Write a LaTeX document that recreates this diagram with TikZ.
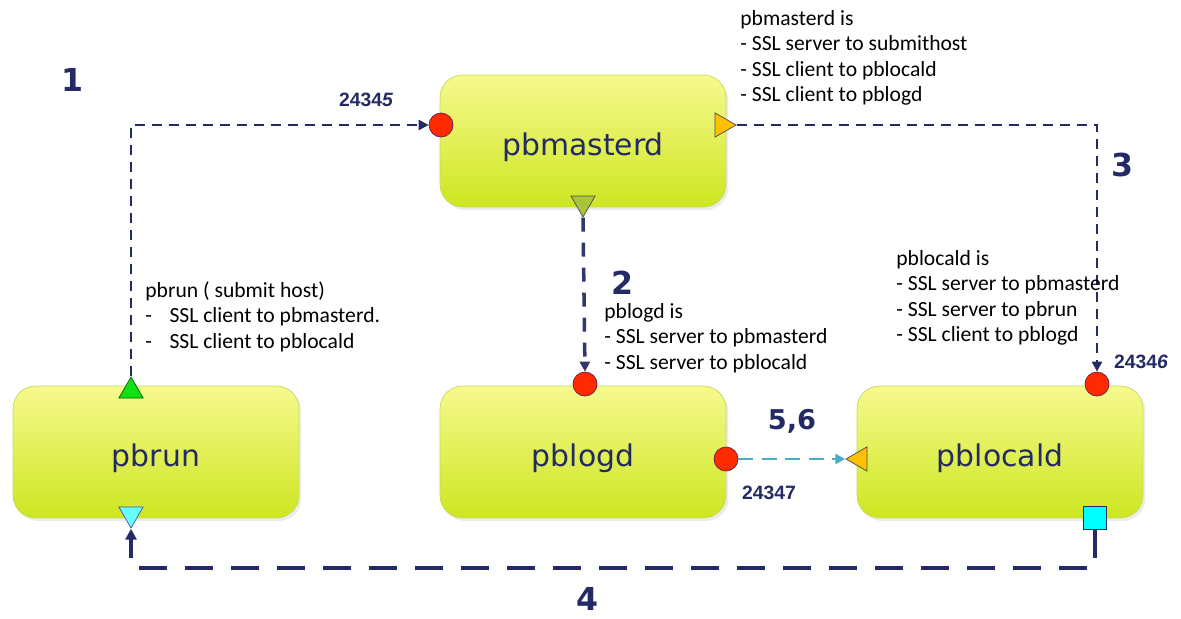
\documentclass[tikz,border=0pt]{standalone}
\usepackage{fontspec}
\setmainfont{Carlito}
\newfontfamily\boxfont{DejaVu Sans}
\newfontfamily\stepfont{DejaVu Sans}
\newfontfamily\portfont{Liberation Sans}
\usetikzlibrary{arrows.meta,shapes.geometric,shadows}

\definecolor{navy}{HTML}{232A64}
\definecolor{boxtop}{HTML}{F7F98E}
\definecolor{boxbot}{HTML}{CDE620}
\definecolor{boxline}{HTML}{C4DC5C}
\definecolor{portred}{HTML}{FF2A00}
\definecolor{portorange}{HTML}{FFC000}
\definecolor{portolive}{HTML}{A8C43C}
\definecolor{portgreen}{HTML}{12E012}
\definecolor{portcyan}{HTML}{66FFFF}
\definecolor{sqcyan}{HTML}{00FFFF}
\definecolor{linkcyan}{HTML}{4BACC6}

\tikzset{
  daemon/.style={rectangle, rounded corners=0.45cm, minimum width=5.72cm,
    minimum height=2.64cm, draw=boxline, top color=boxtop, bottom color=boxbot,
    drop shadow={opacity=0.15, shadow xshift=0.05cm, shadow yshift=-0.06cm},
    font=\boxfont\fontsize{17}{20}\selectfont, text=navy,
    text height=20pt, text depth=3.6pt},
  portin/.style={circle, draw=navy!70!red, fill=portred, minimum size=0.48cm, inner sep=0pt},
  tri/.style={regular polygon, regular polygon sides=3, minimum size=0.56cm, inner sep=0pt},
  sq/.style={rectangle, draw=navy, fill=sqcyan, minimum size=0.47cm, inner sep=0pt},
  conn/.style={navy, line width=1.4pt, dash pattern=on 0.2cm off 0.14cm,
    -{Triangle[length=0.2cm,width=0.2cm]}},
  note/.style={align=left, inner sep=0pt, anchor=north west, font=\fontsize{12.3}{14.5}\selectfont},
  stepnum/.style={font=\stepfont\bfseries\fontsize{18}{20}\selectfont, text=navy},
  portnum/.style={font=\portfont\bfseries\fontsize{11}{12}\selectfont, text=navy}
}

\begin{document}
\begin{tikzpicture}[x=0.02cm, y=0.02cm]
\useasboundingbox (0,0) rectangle (1181,-619);

% daemons
\node[daemon] (master) at (583,-141) {pbmasterd};
\node[daemon] (run) at (156,-452) {pbrun};
\node[daemon] (logd) at (583,-452) {pblogd};
\node[daemon] (locald) at (1000,-452) {pblocald};

% ports
\node[portin] (mIn) at (441,-125) {};
\node[tri, regular polygon rotate=-90, draw=gray!60!black, fill=portorange] (mOut) at (722,-125) {};
\node[tri, regular polygon rotate=180, draw=gray!60!black, fill=portolive] (mDown) at (583,-203) {};
\node[tri, draw=green!40!black, fill=portgreen] (runUp) at (131,-391) {};
\node[tri, regular polygon rotate=180, draw=blue!40!gray, fill=portcyan] (runDn) at (131,-514) {};
\node[portin] (logdTop) at (585,-384) {};
\node[portin] (logdR) at (726,-459) {};
\node[portin] (lcTop) at (1097,-384) {};
\node[tri, regular polygon rotate=90, draw=gray!60!black, fill=portorange] (lcIn) at (860,-459) {};
\node[sq] (lcSq) at (1095,-518) {};
\coordinate (c4) at (131,-568);

% connections
\draw[conn] (runUp.corner 1) |- (mIn.west);
\draw[conn, navy!85!gray, line width=2pt, dash pattern=on 0.28cm off 0.22cm] (mDown.corner 1) -- (logdTop.north);
\draw[conn] (mOut.corner 1) -| (lcTop.north);
\draw[conn, line width=2.2pt, dash pattern=on 0.56cm off 0.36cm,
  -{Triangle[length=0.22cm,width=0.22cm]}] (lcSq.south) |- (c4) -- (runDn.corner 1);
\draw[conn, linkcyan, line width=1.6pt, dash pattern=on 0.3cm off 0.17cm] (logdR.east) -- (lcIn.corner 1);

% step numbers
\node[stepnum] (s1) at (73,-80) {1};
\node[stepnum] (s2) at (622,-283) {2};
\node[stepnum] (s3) at (1122,-165) {3};
\node[stepnum] (s4) at (587,-599) {4};
\node[stepnum, font=\stepfont\bfseries\fontsize{15.5}{18}\selectfont] (s56) at (792,-421) {5,6};

% port numbers
\node[portnum] (p5) at (366,-100) {2434\textit{5}};
\node[portnum] (p6) at (1141,-362) {2434\textit{6}};
\node[portnum] (p7) at (769,-493) {24347};

% notes
\node[note] (masternote) at (740,-10) {pbmasterd is\\- SSL server to submithost\\- SSL client to pblocald\\- SSL client to pblogd};
\node[note] (runnote) at (145,-281) {pbrun ( submit host)\\-\hspace{10pt}SSL client to pbmasterd.\\-\hspace{10pt}SSL client to pblocald};
\node[note] (logdnote) at (604,-303) {pblogd is\\- SSL server to pbmasterd\\- SSL server to pblocald};
\node[note] (localdnote) at (896,-250) {pblocald is\\- SSL server to pbmasterd\\- SSL server to pbrun\\- SSL client to pblogd};
\end{tikzpicture}
\end{document}
